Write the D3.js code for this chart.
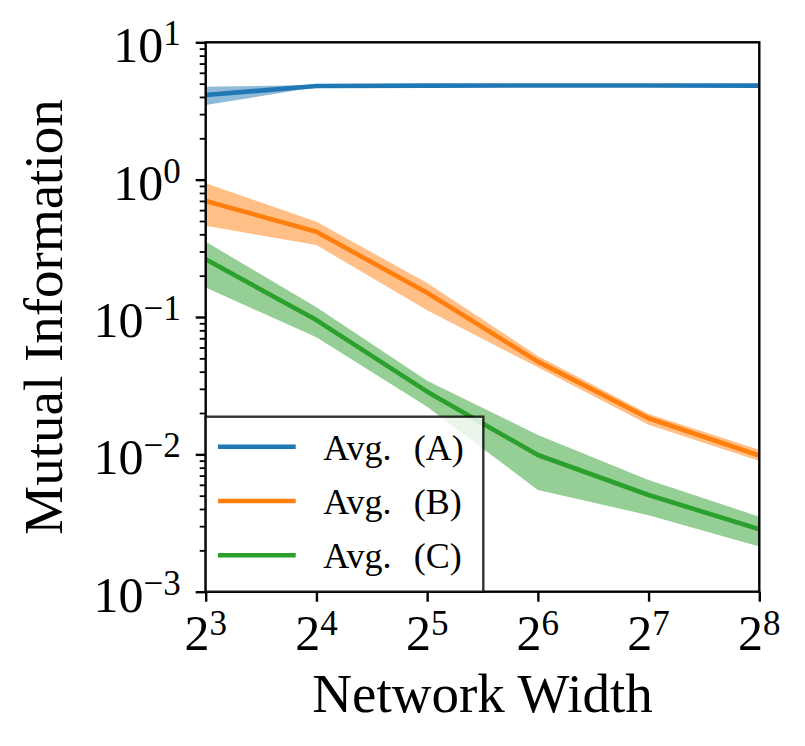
<!DOCTYPE html>
<html>
<head>
<meta charset="utf-8">
<script src="https://cdn.jsdelivr.net/npm/d3@7"></script>
<style>
  body { margin: 0; background: #fff; }
  text { font-family: "Liberation Serif", "DejaVu Serif", serif; fill: #000; }
</style>
</head>
<body>
<div id="chart"></div>
<script>
// data
var widths = [8, 16, 32, 64, 128, 256];

var meanA = [4.13, 4.81, 4.84, 4.85, 4.85, 4.84];
var lowA  = [3.49, 4.72, 4.79, 4.81, 4.81, 4.80];
var highA = [4.75, 4.88, 4.88, 4.89, 4.89, 4.88];

var meanB = [0.70, 0.418, 0.150, 0.0473, 0.0183, 0.0098];
var lowB  = [0.462, 0.334, 0.112, 0.043, 0.0164, 0.00895];
var highB = [0.94, 0.494, 0.177, 0.052, 0.0197, 0.0108];

var meanC = [0.263, 0.095, 0.0286, 0.00989, 0.00506, 0.00285];
var lowC  = [0.164, 0.0711, 0.0222, 0.0055, 0.00361, 0.00213];
var highC = [0.353, 0.118, 0.0344, 0.01384, 0.0065, 0.00352];

var seriesNames = ["Avg. (A)", "Avg. (B)", "Avg. (C)"];
var xTickPowers = [3, 4, 5, 6, 7, 8];
var yTickPowers = [-3, -2, -1, 0, 1];

var colors = ["#1f77b4", "#ff7f0e", "#2ca02c"];

// Step 1: svg area
var svgWidth = 805;
var svgHeight = 746;

var margin = { top: 42.3, right: 45.7, bottom: 154.3, left: 205.7 };
var width = svgWidth - margin.left - margin.right;
var height = svgHeight - margin.top - margin.bottom;

var svg = d3.select("#chart")
  .append("svg")
  .attr("width", svgWidth)
  .attr("height", svgHeight)
  .append("g")
  .attr("transform", `translate(${margin.left}, ${margin.top})`);

// scales
var xScale = d3.scaleLog().base(2)
  .domain([8, 256])
  .range([0, width]);

var yScale = d3.scaleLog()
  .domain([1e-3, 10])
  .range([height, 0]);

svg.append("clipPath")
  .attr("id", "plotclip")
  .append("rect")
  .attr("width", width)
  .attr("height", height);

// build rows for each series
var series = [
  { mean: meanA, low: lowA, high: highA },
  { mean: meanB, low: lowB, high: highB },
  { mean: meanC, low: lowC, high: highC }
].map(function(s, i) {
  return {
    name: seriesNames[i],
    color: colors[i],
    rows: widths.map(function(w, j) {
      return { w: w, mean: s.mean[j], low: s.low[j], high: s.high[j] };
    })
  };
});

var plot = svg.append("g").attr("clip-path", "url(#plotclip)");

var area = d3.area()
  .x(d => xScale(d.w))
  .y0(d => yScale(d.low))
  .y1(d => yScale(d.high));

var line = d3.line()
  .x(d => xScale(d.w))
  .y(d => yScale(d.mean));

// bands first, then lines on top
series.forEach(function(s) {
  plot.append("path")
    .datum(s.rows)
    .attr("d", area)
    .style("fill", s.color)
    .style("fill-opacity", 0.5)
    .style("stroke", "none");
});
series.forEach(function(s) {
  plot.append("path")
    .datum(s.rows)
    .attr("d", line)
    .style("fill", "none")
    .style("stroke", s.color)
    .style("stroke-width", 4.6)
    .style("stroke-linejoin", "round");
});

// y axis ticks (major + minor)
var minorTicks = [];
yTickPowers.slice(0, -1).forEach(function(p) {
  for (var k = 2; k <= 9; k++) minorTicks.push(k * Math.pow(10, p));
});

var yAxisMinor = d3.axisLeft(yScale)
  .tickValues(minorTicks)
  .tickSize(6)
  .tickFormat("");
svg.append("g")
  .call(yAxisMinor)
  .call(g => g.select(".domain").remove())
  .selectAll("line").style("stroke-width", 1.8);

var yAxis = d3.axisLeft(yScale)
  .tickValues(yTickPowers.map(p => Math.pow(10, p)))
  .tickSize(10)
  .tickFormat("");
svg.append("g")
  .call(yAxis)
  .call(g => g.select(".domain").remove())
  .selectAll("line").style("stroke-width", 2.4);

// y tick labels 10^p
svg.selectAll("text.ylab")
  .data(yTickPowers)
  .enter()
  .append("text")
  .classed("ylab", true)
  .attr("x", -25)
  .attr("y", d => yScale(Math.pow(10, d)) + 20)
  .attr("text-anchor", "end")
  .style("font-size", "50px")
  .each(function(d) {
    var t = d3.select(this);
    t.append("tspan").text("10");
    t.append("tspan")
      .attr("dy", -17)
      .style("font-size", "35px")
      .text(d < 0 ? "\u2212" + (-d) : String(d));
  });

// x axis
var xAxis = d3.axisBottom(xScale)
  .tickValues(xTickPowers.map(p => Math.pow(2, p)))
  .tickSize(10)
  .tickFormat("");
svg.append("g")
  .attr("transform", `translate(0, ${height})`)
  .call(xAxis)
  .call(g => g.select(".domain").remove())
  .selectAll("line").style("stroke-width", 2.4);

svg.selectAll("text.xlab")
  .data(xTickPowers)
  .enter()
  .append("text")
  .classed("xlab", true)
  .attr("x", d => xScale(Math.pow(2, d)))
  .attr("y", height + 58)
  .attr("text-anchor", "middle")
  .style("font-size", "50px")
  .each(function(d) {
    var t = d3.select(this);
    t.append("tspan").text("2");
    t.append("tspan")
      .attr("dy", -15)
      .style("font-size", "35px")
      .text(String(d));
  });

// frame
svg.append("rect")
  .attr("width", width)
  .attr("height", height)
  .style("fill", "none")
  .style("stroke", "#000")
  .style("stroke-width", 2.4);

// axis labels
svg.append("text")
  .attr("transform", "rotate(-90)")
  .attr("x", -height / 2)
  .attr("y", 62 - margin.left)
  .attr("text-anchor", "middle")
  .style("font-size", "55px")
  .text("Mutual Information");

svg.append("text")
  .attr("x", width / 2)
  .attr("y", height + 120)
  .attr("text-anchor", "middle")
  .style("font-size", "55px")
  .text("Network Width");

// legend
var legend = svg.append("g")
  .attr("transform", `translate(0, ${height - 175})`);

legend.append("rect")
  .attr("width", 277.6)
  .attr("height", 175)
  .style("fill", "#fff")
  .style("fill-opacity", 0.8)
  .style("stroke", "#000")
  .style("stroke-opacity", 0.8)
  .style("stroke-width", 2.4);

var item = legend.selectAll("g.item")
  .data(series)
  .enter()
  .append("g")
  .classed("item", true)
  .attr("transform", (d, i) => `translate(0, ${30 + i * 54.3})`);

item.append("line")
  .attr("x1", 12.3)
  .attr("x2", 90)
  .style("stroke", d => d.color)
  .style("stroke-width", 4.6);

item.append("text")
  .attr("y", 13)
  .style("font-size", "36px")
  .each(function(d) {
    var parts = d.name.split(" ");
    var t = d3.select(this);
    t.append("tspan").attr("x", 117.6).text(parts[0]);
    t.append("tspan").attr("x", 208).text(parts[1]);
  });
</script>
</body>
</html>
